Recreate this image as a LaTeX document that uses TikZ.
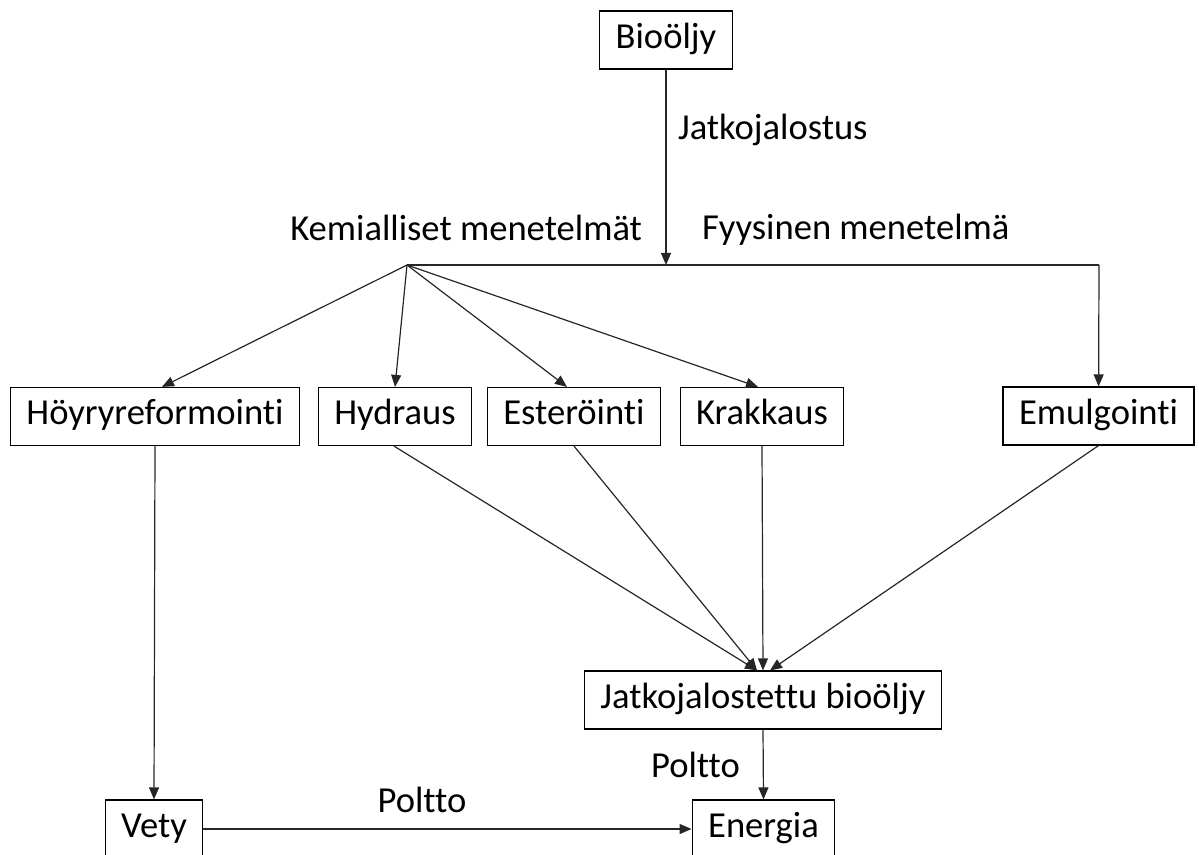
\documentclass[tikz,border=0pt]{standalone}
\usepackage{fontspec}
\setmainfont{Carlito}[Ligatures=NoCommon]
\usepackage{tikz}
\usetikzlibrary{arrows.meta}

\begin{document}
\begin{tikzpicture}[x=0.5pt, y=-0.5pt, font=\fontsize{18.3}{22}\selectfont]
                \clip (0,0) rectangle (1199,855);
                \useasboundingbox (0,0) rectangle (1199,855);

                \begin{scope}[every node/.style = {rectangle, draw, line width=0.6pt,
                                text height=12.5pt, text depth=4pt,
                                inner ysep=6.25pt, inner xsep=8pt}]
                    \node (B) at (666,40)    {Bioöljy};
                    \node (H) at (155,416.5) {Höyryreformointi};
                    \node (Y) at (395,416.5) {Hydraus};
                    \node (S) at (574,416.5) {Esteröinti};
                    \node (K) at (762,416.5) {Krakkaus};
                    \node (M) at (1098.5,416) {Emulgointi};
                    \node (J) at (763,700)   {Jatkojalostettu bioöljy};
                    \node (V) at (154,829)   {Vety};
                    \node (E) at (763.5,829) {Energia};
                \end{scope}

                \node[anchor=west] (l1) at (671,130) {Jatkojalostus};
                \node[anchor=east] (l2) at (649,228) {Kemialliset menetelmät};
                \node[anchor=west] (l3) at (695,230) {Fyysinen menetelmä};
                \node[anchor=east] (l4) at (747,765) {Poltto};
                \node (l5) at (422,800) {Poltto};

                \coordinate (split)  at (407,265);
                \coordinate (join)   at (666,265);
                \coordinate (corner) at (1099,265);

                \begin{scope}[>={Triangle[length=6pt, width=5pt]},
                                every edge/.style={draw=black!85, line width=0.6pt}]
                    \path [->] (B) edge (join);
                    \draw [black!85, line width=0.6pt] (split) -- (corner);
                    \path [->] (corner) edge (M);
                    \path [->] (split) edge ([xshift=3.5pt]H.north);
                    \path [->] (split) edge (Y.north);
                    \path [->] (split) edge ([xshift=-3.5pt]S.north);
                    \path [->] (split) edge ([xshift=-2pt]K.north);
                    \path [->] ([xshift=-0.5pt]Y.south) edge ([xshift=-3pt]J.north);
                    \path [->] (S.south) edge ([xshift=-3pt]J.north);
                    \path [->] (K.south) edge (J.north);
                    \path [->] (M.south) edge ([xshift=3.5pt]J.north);
                    \path [->] (H.south) edge (V.north);
                    \path [->] (J.south) edge (E.north);
                    \path [->] (V.east |- 0,829) edge (E.west |- 0,829);
                \end{scope}
            \end{tikzpicture}
\end{document}
